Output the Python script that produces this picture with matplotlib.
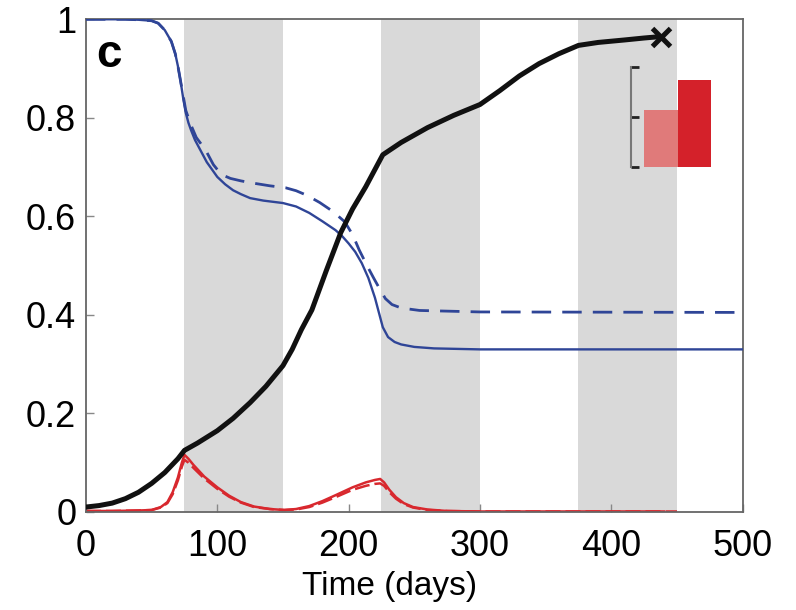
import numpy as np
import matplotlib.pyplot as plt

plt.rcParams['font.family'] = ['Liberation Sans', 'DejaVu Sans']

# ---- data ----
bands = [(75, 150), (225, 300), (375, 450)]

t_blue = [0, 30, 40, 50, 55, 60, 65, 68, 70, 72, 74, 76, 78, 80, 83, 87, 92, 100,
          106, 112, 118, 125, 135, 150, 160, 170, 180, 190, 195, 200, 205, 210,
          215, 220, 223, 226, 230, 235, 240, 250, 265, 300, 500]
blue_solid = [1.0, 1.0, 0.999, 0.997, 0.992, 0.978, 0.955, 0.93, 0.905, 0.875, 0.84,
              0.81, 0.79, 0.775, 0.755, 0.735, 0.71, 0.68, 0.665, 0.653, 0.645, 0.637,
              0.632, 0.627, 0.62, 0.607, 0.59, 0.572, 0.56, 0.545, 0.528, 0.505,
              0.475, 0.435, 0.405, 0.375, 0.355, 0.345, 0.34, 0.335, 0.332, 0.33, 0.33]

t_blue_d = [0, 30, 40, 50, 55, 60, 65, 68, 70, 72, 74, 76, 78, 80, 84, 91, 97, 103,
            110, 118, 126, 140, 152, 160, 168, 178, 188, 197, 203, 208, 214, 219,
            224, 228, 233, 240, 254, 300, 500]
blue_dashed = [1.0, 1.0, 0.999, 0.997, 0.992, 0.978, 0.955, 0.93, 0.905, 0.875, 0.845,
               0.815, 0.80, 0.785, 0.76, 0.735, 0.705, 0.685, 0.677, 0.672, 0.668,
               0.662, 0.658, 0.652, 0.643, 0.628, 0.61, 0.589, 0.563, 0.532, 0.50,
               0.475, 0.451, 0.433, 0.421, 0.414, 0.409, 0.406, 0.405]

t_black = [0, 10, 20, 30, 40, 50, 60, 70, 75, 85, 100, 112, 125, 137, 150, 157, 164,
           172, 183, 194, 203, 213, 220, 226, 240, 260, 280, 300, 315, 330, 345, 360,
           375, 390, 410, 425, 438]
black = [0.01, 0.013, 0.018, 0.027, 0.04, 0.058, 0.08, 0.108, 0.125, 0.14, 0.165,
         0.19, 0.222, 0.255, 0.297, 0.33, 0.37, 0.41, 0.49, 0.567, 0.615, 0.66, 0.695,
         0.725, 0.75, 0.78, 0.805, 0.827, 0.855, 0.885, 0.91, 0.93, 0.947, 0.953,
         0.958, 0.962, 0.965]

t_red = [0, 20, 40, 50, 57, 62, 66, 70, 73, 75, 78, 82, 90, 100, 109, 118, 128, 140,
         151, 160, 170, 180, 190, 203, 213, 220, 224, 227, 231, 236, 242, 249, 260,
         275, 300, 440]
red_solid = [0.002, 0.002, 0.003, 0.004, 0.01, 0.02, 0.04, 0.07, 0.1, 0.116, 0.108,
             0.095, 0.072, 0.05, 0.033, 0.02, 0.011, 0.006, 0.004, 0.006, 0.012, 0.022,
             0.034, 0.05, 0.06, 0.065, 0.067, 0.06, 0.045, 0.03, 0.018, 0.01, 0.005,
             0.002, 0.001, 0.001]
t_red_d = [0, 20, 40, 50, 57, 62, 66, 70, 73, 75, 78, 82, 90, 100, 109, 118, 128, 140,
           151, 160, 170, 180, 190, 203, 213, 220, 224, 227, 231, 236, 242, 249, 260,
           275, 300, 450]
red_dashed = [0.002, 0.002, 0.003, 0.004, 0.009, 0.018, 0.036, 0.064, 0.092, 0.106,
              0.1, 0.089, 0.068, 0.047, 0.031, 0.019, 0.01, 0.006, 0.004, 0.005, 0.01,
              0.019, 0.03, 0.045, 0.053, 0.057, 0.058, 0.053, 0.04, 0.027, 0.016, 0.009,
              0.004, 0.002, 0.001, 0.001]

x_end, y_end = 438, 0.965

inset_vals = [0.573, 0.868]

xticks = [0, 100, 200, 300, 400, 500]
yticks = [0, 0.2, 0.4, 0.6, 0.8, 1.0]
ytick_labels = ['0', '0.2', '0.4', '0.6', '0.8', '1']

# ---- plotting ----
fig = plt.figure(figsize=(7.96, 6.10), dpi=100)
ax = fig.add_axes([0.108, 0.1607, 0.825, 0.8077])

for a, b in bands:
    ax.axvspan(a, b, color='#d9d9d9', lw=0, zorder=0)

red = '#d8282e'
blue = '#2f4597'
ax.plot(t_red, red_solid, color=red, lw=1.8, zorder=2)
ax.plot(t_red_d, red_dashed, color=red, lw=1.8, ls=(0, (6, 2)), zorder=2)
ax.plot(t_blue, blue_solid, color=blue, lw=1.7, zorder=3)
ax.plot(t_blue_d, blue_dashed, color=blue, lw=2.0, ls=(0, (7, 4)), zorder=3)
ax.plot(t_black, black, color='#111111', lw=3.6, solid_capstyle='round', zorder=4)
ax.plot([x_end], [y_end], marker='x', ms=13, mew=3.6, color='#111111', zorder=5)

ax.set_xlim(0, 500)
ax.set_ylim(0, 1)
ax.set_xticks(xticks)
ax.set_yticks(yticks)
ax.set_yticklabels(ytick_labels)
ax.tick_params(direction='in', length=6, width=1, color='#888888',
               labelsize=26, pad=7)
ax.tick_params(axis='x', pad=12)
for s in ax.spines.values():
    s.set_color('#666666')
    s.set_linewidth(1.3)

ax.set_xlabel('Time (days)', fontsize=24)
ax.xaxis.set_label_coords(0.463, -0.12)
ax.text(0.016, 0.903, 'c', transform=ax.transAxes, fontsize=33,
        fontweight='bold', va='baseline', ha='left')

# inset bars with scale bracket
ins = fig.add_axes([0.7927, 0.7267, 0.1005, 0.163])
ins.bar([0, 1], inset_vals, width=1.0, align='edge',
        color=['#e07a7a', '#d4212a'])
ins.set_xlim(-0.4, 2.0)
ins.set_ylim(0, 1)
ins.patch.set_visible(False)
for k in ['top', 'right', 'bottom']:
    ins.spines[k].set_visible(False)
ins.spines['left'].set_color('#777777')
ins.spines['left'].set_linewidth(1.5)
ins.set_xticks([])
ins.set_yticks([0, 0.5, 1])
ins.set_yticklabels([])
ins.tick_params(axis='y', direction='in', length=6, width=2, color='#222222')

fig.savefig('out.png', dpi=100)
